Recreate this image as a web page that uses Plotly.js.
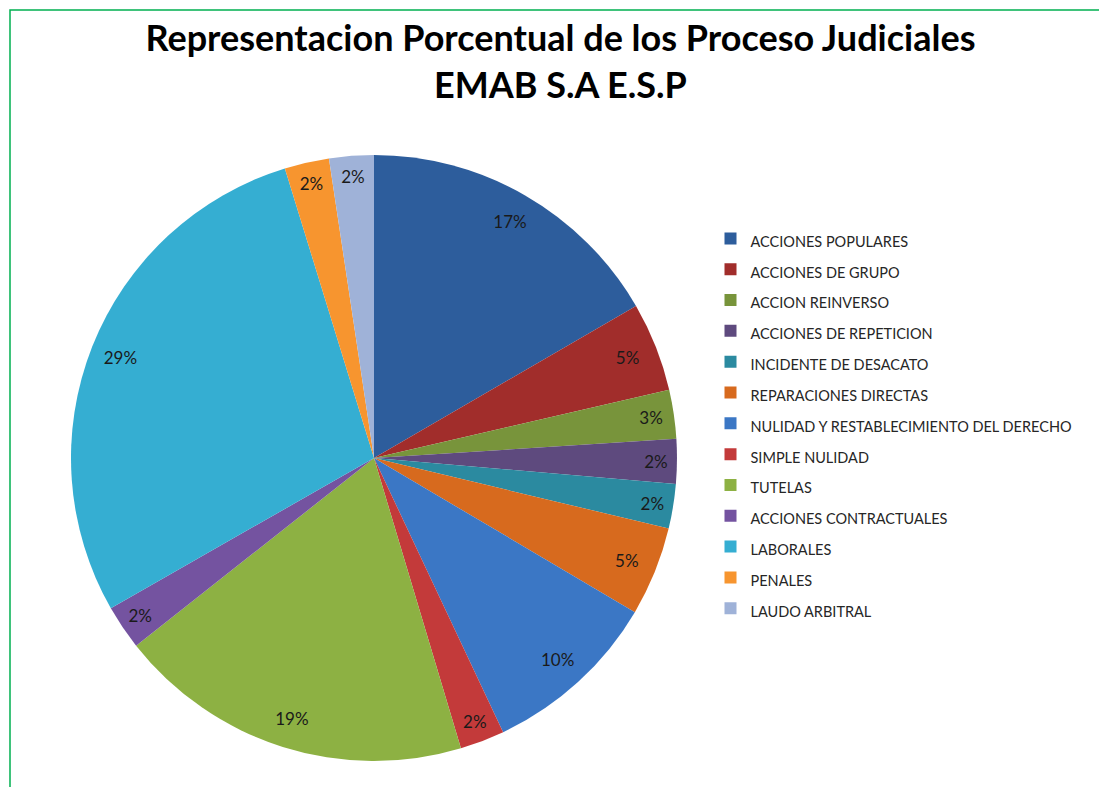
<!DOCTYPE html>
<html>
<head>
<meta charset="utf-8">
<script src="https://cdn.plot.ly/plotly-3.0.1.min.js"></script>
<style>
html,body{margin:0;padding:0;background:#fff;}
#chart{width:1099px;height:787px;}
</style>
</head>
<body>
<div id="chart"></div>
<script>
// Data
var categories = [
  "ACCIONES POPULARES",
  "ACCIONES DE GRUPO",
  "ACCION REINVERSO",
  "ACCIONES DE REPETICION",
  "INCIDENTE DE DESACATO",
  "REPARACIONES DIRECTAS",
  "NULIDAD Y RESTABLECIMIENTO DEL DERECHO",
  "SIMPLE NULIDAD",
  "TUTELAS",
  "ACCIONES CONTRACTUALES",
  "LABORALES",
  "PENALES",
  "LAUDO ARBITRAL"
];
var processCounts = [7, 2, 1.1, 1, 1, 2, 4, 1, 8, 1, 12, 1, 1];
var sliceColors = [
  "#2D5D9C", "#A12D2B", "#78943B", "#5E4A7E", "#2B8AA0", "#D76A1E",
  "#3B77C5", "#C33A3A", "#8DB143", "#7453A0", "#35AED2", "#F7952F", "#9FB2D8"
];
var titleText = "Representacion Porcentual de los Proceso Judiciales<br>EMAB S.A E.S.P";

var legendLabels = categories.map(function(c){ return '<span style="font-size:14.5px">' + c + '</span>'; });

var pieMain = {
  type: "pie",
  labels: legendLabels,
  values: processCounts,
  sort: false,
  direction: "clockwise",
  rotation: 0,
  marker: {colors: sliceColors, line: {width: 0}},
  textinfo: "none",
  hoverinfo: "label+percent",
  domain: {x: [0.0646, 0.616], y: [0.033, 0.803]},
  showlegend: true
};

var pieLabels = {
  type: "pie",
  labels: legendLabels,
  values: processCounts,
  sort: false,
  direction: "clockwise",
  rotation: 0,
  hole: 0.8,
  marker: {colors: categories.map(function(){return "rgba(0,0,0,0)";}), line: {width: 0}},
  texttemplate: "%{percent:.0%}",
  textposition: "inside",
  insidetextorientation: "horizontal",
  textfont: {family: "Lato, 'Open Sans', sans-serif", size: 17, color: "#1a1a1a"},
  hoverinfo: "skip",
  domain: {x: [0.0646, 0.616], y: [0.033, 0.803]},
  showlegend: false
};

var layout = {
  width: 1099,
  height: 787,
  margin: {l: 0, r: 0, t: 0, b: 0},
  paper_bgcolor: "#ffffff",
  title: {
    text: titleText,
    font: {family: "Lato, 'Open Sans', sans-serif", size: 36, color: "#000000", weight: "bold"},
    x: 0.51, xanchor: "center",
    y: 0.935, yanchor: "top"
  },
  uniformtext: {minsize: 17, mode: "show"},
  legend: {
    x: 0.6465, xanchor: "left",
    y: 0.723, yanchor: "top",
    font: {family: "Lato, 'Open Sans', sans-serif", size: 21.4, color: "#262626"},
    itemwidth: 30,
    bgcolor: "rgba(0,0,0,0)"
  },
  shapes: [{
    type: "rect", xref: "paper", yref: "paper",
    x0: 10/1099, x1: 1.02, y0: -0.02, y1: 1 - 10/787,
    line: {color: "#00B050", width: 1.5},
    fillcolor: "rgba(0,0,0,0)"
  }]
};

Plotly.newPlot("chart", [pieMain, pieLabels], layout, {displayModeBar: false, staticPlot: true});
</script>
</body>
</html>
